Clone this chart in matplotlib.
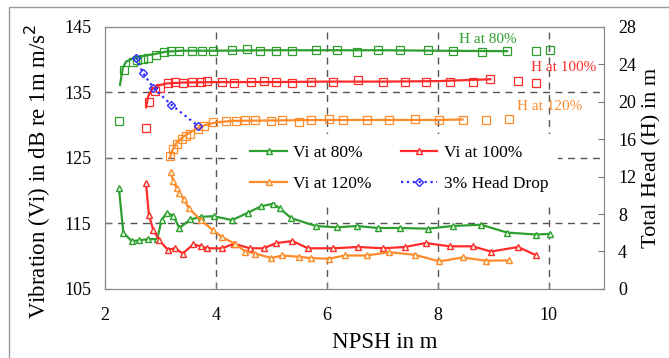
import matplotlib.pyplot as plt
from matplotlib.lines import Line2D
from matplotlib.patches import Rectangle

plt.rcParams['font.family'] = ['Liberation Serif', 'DejaVu Serif']

green = '#2e9e2e'
red = '#ff2a2a'
orange = '#ff8a2a'
blue = '#2b2bff'

# vibration, left axis (dB)
vi80_x = [2.25, 2.33, 2.48, 2.61, 2.77, 2.94, 3.02, 3.11, 3.23, 3.34, 3.54, 3.73, 3.96, 4.29, 4.57,
          4.81, 5.03, 5.15, 5.36, 5.8, 6.18, 6.54, 6.92, 7.32, 7.82, 8.27, 8.78, 9.25, 9.78, 10.02]
vi80_y = [120.4, 113.6, 112.3, 112.4, 112.6, 112.6, 115.5, 116.6, 116.2, 114.3, 115.6, 116.0, 116.1, 115.5, 116.6,
          117.6, 118.0, 117.3, 115.8, 114.6, 114.4, 114.6, 114.3, 114.3, 114.2, 114.6, 114.8, 113.6, 113.3, 113.4]

vi100_x = [2.74, 2.79, 2.87, 2.98, 3.13, 3.27, 3.4, 3.59, 3.73, 3.84, 4.11, 4.33, 4.61, 4.86, 5.09, 5.38,
           5.66, 6.12, 6.57, 7.01, 7.41, 7.78, 8.22, 8.63, 8.96, 9.45, 9.78]
vi100_y = [121.1, 116.3, 114.0, 112.4, 111.0, 111.2, 110.4, 111.8, 111.5, 111.2, 111.2, 111.9, 111.2, 111.2, 112.0, 112.3,
           111.2, 111.2, 111.4, 111.2, 111.4, 112.0, 111.5, 111.5, 110.7, 111.4, 110.1]

vi120_x = [3.19, 3.23, 3.29, 3.34, 3.42, 3.51, 3.73, 3.94, 4.11, 4.34, 4.53, 4.71, 5.0, 5.19, 5.5,
           5.71, 6.03, 6.32, 6.72, 7.12, 7.59, 8.03, 8.45, 8.87, 9.28]
vi120_y = [122.9, 121.4, 120.4, 119.7, 118.7, 117.3, 115.5, 114.0, 112.9, 111.9, 110.7, 110.4, 109.7, 110.1, 109.9,
           109.7, 109.6, 110.1, 110.1, 110.6, 110.2, 109.2, 109.8, 109.3, 109.35]

# total head, right axis (m) - measured points
h80_x = [2.25, 2.35, 2.5, 2.58, 2.68, 2.77, 2.92, 3.06, 3.19, 3.33, 3.56, 3.75, 3.94, 4.29, 4.56, 4.79, 5.08,
         5.38, 5.81, 6.18, 6.54, 6.92, 7.32, 7.82, 8.27, 8.79, 9.25, 9.78, 10.02]
h80_y = [17.9, 23.4, 24.2, 24.45, 24.6, 24.7, 25.0, 25.3, 25.4, 25.4, 25.4, 25.4, 25.4, 25.5, 25.6, 25.45, 25.45,
         25.4, 25.5, 25.5, 25.3, 25.5, 25.5, 25.5, 25.45, 25.3, 25.4, 25.4, 25.5]

h100_x = [2.74, 2.79, 2.9, 3.0, 3.14, 3.27, 3.4, 3.57, 3.73, 3.83, 4.11, 4.33, 4.63, 4.86, 5.09, 5.38, 5.72,
          6.12, 6.57, 7.01, 7.41, 7.78, 8.22, 8.63, 8.95, 9.45, 9.78]
h100_y = [17.2, 20.0, 21.1, 21.5, 22.0, 22.1, 22.0, 22.1, 22.1, 22.2, 22.1, 22.0, 22.1, 22.2, 22.1, 22.05, 22.1,
          22.15, 22.3, 22.1, 22.1, 22.1, 22.1, 22.15, 22.4, 22.2, 22.0]

h120_x = [3.17, 3.23, 3.29, 3.38, 3.46, 3.54, 3.67, 3.79, 3.94, 4.19, 4.36, 4.53, 4.7, 5.0, 5.19, 5.5,
          5.71, 6.03, 6.3, 6.72, 7.12, 7.59, 8.03, 8.45, 8.87, 9.28]
h120_y = [14.2, 14.9, 15.5, 16.0, 16.3, 16.6, 17.05, 17.4, 17.8, 17.9, 17.9, 18.05, 18.1, 17.9, 18.05, 17.8,
          18.05, 18.15, 18.1, 18.0, 18.0, 18.15, 18.05, 18.1, 18.05, 18.15]

# total head trend lines
h80_fit_x = [2.27, 2.32, 2.38, 2.5, 2.7, 2.9, 3.1, 3.4, 4.0, 5.0, 6.0, 7.0, 8.0, 9.25]
h80_fit_y = [21.8, 23.6, 24.3, 24.6, 24.9, 25.1, 25.35, 25.45, 25.45, 25.5, 25.5, 25.5, 25.45, 25.4]
h100_fit_x = [2.74, 2.78, 2.84, 2.95, 3.1, 3.4, 4.0, 5.0, 6.0, 7.0, 8.0, 8.95]
h100_fit_y = [19.4, 20.6, 21.3, 21.7, 21.95, 22.05, 22.1, 22.1, 22.15, 22.15, 22.2, 22.4]
h120_fit_x = [3.17, 3.22, 3.3, 3.4, 3.5, 3.65, 3.8, 4.0, 4.3, 5.0, 6.0, 7.0, 8.0, 8.45]
h120_fit_y = [14.0, 14.9, 15.7, 16.2, 16.6, 17.1, 17.5, 17.8, 17.95, 18.0, 18.05, 18.05, 18.05, 18.1]

drop_x = [2.56, 2.68, 2.87, 3.19, 3.67]
drop_y = [24.7, 23.1, 21.5, 19.7, 17.45]

fig = plt.figure(figsize=(6.69, 3.58), dpi=100)
ax = fig.add_axes([0.157, 0.193, 0.746, 0.732])
ax2 = ax.twinx()

for x in [4, 6, 8, 10]:
    ax.axvline(x, color='#555555', ls=(0, (5, 4)), lw=1, zorder=0)
for y in [115, 125, 135]:
    ax.axhline(y, color='#555555', ls=(0, (5, 4)), lw=1, zorder=0)

vi_kw = dict(marker='^', ms=4, mfc='#e8ffe8', lw=1.6)
ax.plot(vi80_x, vi80_y, color=green, mec=green, **vi_kw)
ax.plot(vi100_x, vi100_y, color=red, mec=red, **vi_kw)
ax.plot(vi120_x, vi120_y, color=orange, mec=orange, **vi_kw)

sq_kw = dict(marker='s', ms=5.5, mfc='none', ls='none', mew=0.9)
for fx, fy, px, py, c in [(h80_fit_x, h80_fit_y, h80_x, h80_y, green),
                          (h100_fit_x, h100_fit_y, h100_x, h100_y, red),
                          (h120_fit_x, h120_fit_y, h120_x, h120_y, orange)]:
    ax2.plot(fx, fy, color=c, lw=1.6)
    ax2.plot(px, py, color=c, **sq_kw)
ax2.plot(drop_x, drop_y, color=blue, ls=':', lw=1.6, marker='D', ms=4, mfc='none')

ax.set_xlim(2, 11)
ax.set_ylim(105, 145)
ax.set_xticks([2, 4, 6, 8, 10])
ax.set_yticks([105, 115, 125, 135, 145])
ax2.set_ylim(0, 28)
ax2.set_yticks(range(0, 29, 4))
for a in (ax, ax2):
    a.tick_params(direction='in', labelsize=13, length=4, color='#777777', pad=10)
    for s in a.spines.values():
        s.set_color('#888888')
ax.tick_params(axis='x', pad=13)

ax.set_xlabel('NPSH in m', fontsize=16.5)
ax.set_ylabel('Vibration (Vi) in dB re 1m m/s$^2$', fontsize=16.5)
ax2.set_ylabel('Total Head (H) in m', fontsize=16)
ax.xaxis.set_label_coords(0.56, -0.165)
ax.yaxis.set_label_coords(-0.104, 0.45)
ax2.yaxis.set_label_coords(1.076, 0.5)

ax.text(8.9, 143.0, 'H at 80%', color=green, fontsize=11, ha='center', va='center')
ax.text(10.27, 138.8, 'H at 100%', color=red, fontsize=11, ha='center', va='center')
ax.text(10.02, 132.9, 'H at 120%', color=orange, fontsize=11, ha='center', va='center')

handles = [
    Line2D([], [], color=green, marker='^', ms=4, mfc='#e8ffe8', lw=1.6),
    Line2D([], [], color=orange, marker='^', ms=4, mfc='#e8ffe8', lw=1.6),
    Line2D([], [], color=red, marker='^', ms=4, mfc='#e8ffe8', lw=1.6),
    Line2D([], [], color=blue, marker='D', ms=4, mfc='none', lw=1.6, ls=':'),
]
labels = ['Vi at 80%', 'Vi at 120%', 'Vi at 100%', '3% Head Drop']
leg = ax2.legend(handles, labels, ncol=2, loc='center left', bbox_to_anchor=(0.2705, 0.46),
                 borderaxespad=0, fontsize=12.5, frameon=True, facecolor='white', edgecolor='none',
                 framealpha=1, columnspacing=1.7, labelspacing=0.85, handlelength=2.1,
                 handletextpad=0.35, numpoints=1, borderpad=0.6)

fig.add_artist(Rectangle((9 / 669, -0.1), 1.2, 1.1 - 7 / 358, transform=fig.transFigure,
                         fill=False, edgecolor='#999999', lw=1))

fig.savefig('out.png', dpi=100)
